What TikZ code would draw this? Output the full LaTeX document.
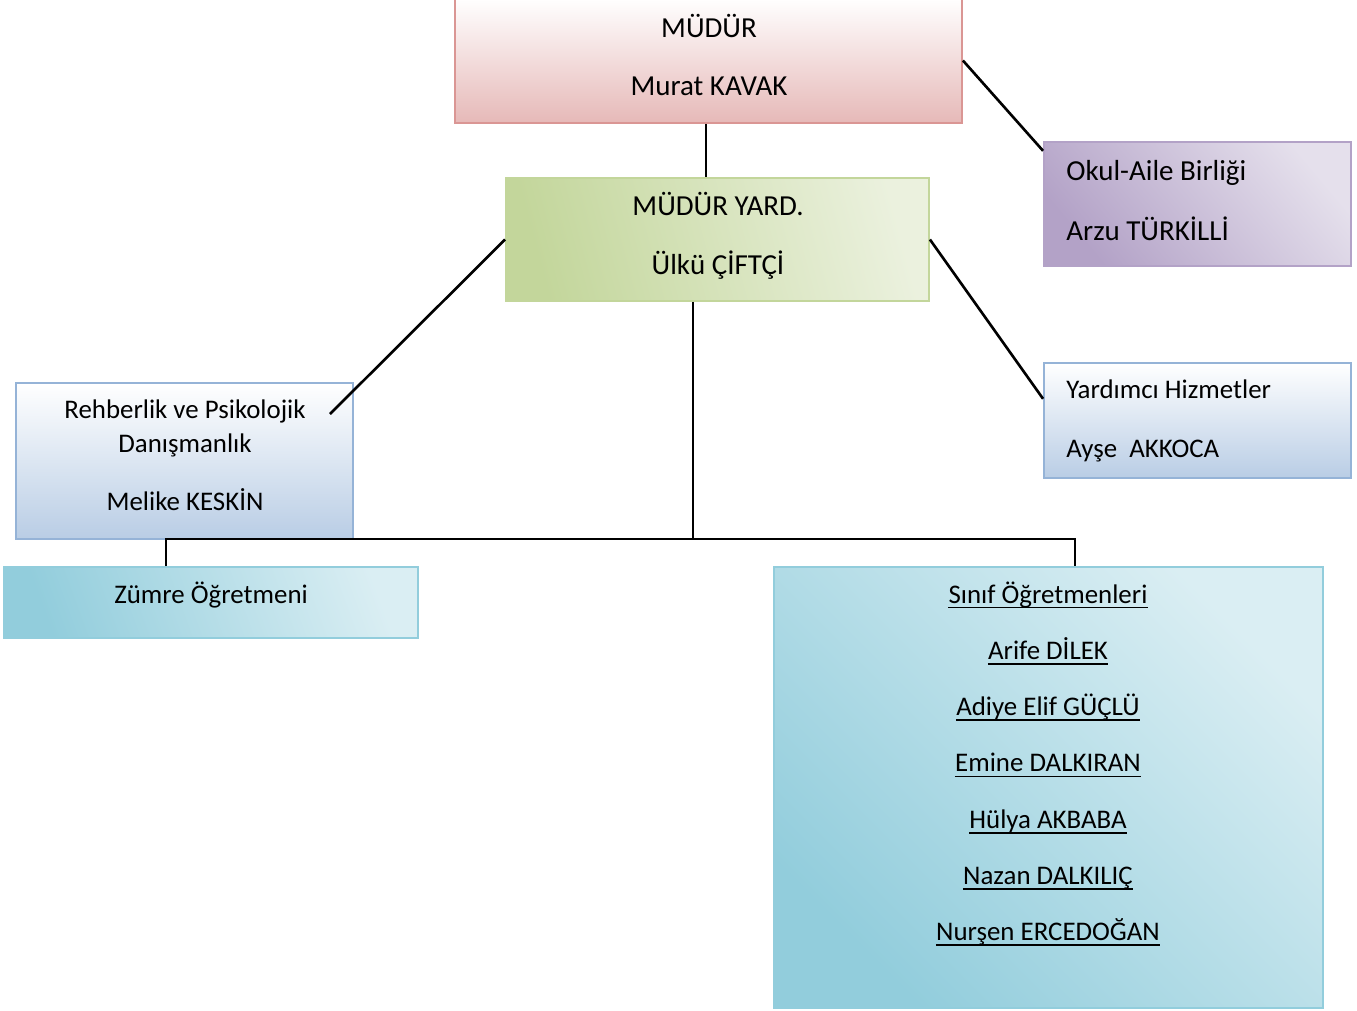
\documentclass[tikz,border=0pt]{standalone}
\usepackage{fontspec}
\setmainfont{Carlito}
\usetikzlibrary{positioning}

\definecolor{pinkbot}{HTML}{E6B9B8}
\definecolor{pinkline}{HTML}{DA9694}
\definecolor{greendark}{HTML}{C3D69B}
\definecolor{greenlight}{HTML}{EBF1DE}
\definecolor{purpdark}{HTML}{B3A2C7}
\definecolor{purplight}{HTML}{E5E0EC}
\definecolor{bluebot}{HTML}{B9CDE5}
\definecolor{blueline}{HTML}{95B3D7}
\definecolor{tealdark}{HTML}{92CDDC}
\definecolor{teallight}{HTML}{DAEEF3}

\tikzset{
  box/.style={rectangle, inner sep=0pt, line width=1.1pt},
  conn/.style={line width=1.5pt, color=black},
  big/.style={font=\fontsize{16.5}{19}\selectfont, inner sep=0pt, anchor=base},
  small/.style={font=\fontsize{15.3}{18}\selectfont, inner sep=0pt, anchor=base}
}

\begin{document}
\begin{tikzpicture}[x=0.02cm,y=-0.02cm]
\useasboundingbox (0,0) rectangle (1357,1011);

\node[box, draw=pinkline, top color=white, bottom color=pinkbot,
  minimum width=10.14cm, minimum height=2.5cm] (mudur) at (708.5,60.5) {};
\node[box, draw=greendark, top color=greenlight, bottom color=greendark, shading angle=-75,
  minimum width=8.46cm, minimum height=2.46cm] (yard) at (717.5,239.5) {};
\node[box, draw=purpdark, top color=purplight, bottom color=purpdark, shading angle=-50,
  minimum width=6.14cm, minimum height=2.48cm] (okul) at (1197.5,204) {};
\node[box, draw=blueline, top color=white, bottom color=bluebot,
  minimum width=6.74cm, minimum height=3.12cm] (rehber) at (184.5,461) {};
\node[box, draw=blueline, top color=white, bottom color=bluebot,
  minimum width=6.14cm, minimum height=2.3cm] (yardimci) at (1197.5,420.5) {};
\node[box, draw=tealdark, top color=teallight, bottom color=tealdark, shading angle=-70,
  minimum width=8.28cm, minimum height=1.42cm] (zumre) at (211,602.5) {};
\node[box, draw=tealdark, top color=teallight, bottom color=tealdark, shading angle=-45,
  minimum width=10.98cm, minimum height=8.82cm] (sinif) at (1048.5,787.5) {};

\node[big] (mudurt) at (709,37) {MÜDÜR};
\node[big] (muduri) at (709,95) {Murat KAVAK};
\node[big] (yardt) at (718,215) {MÜDÜR YARD.};
\node[big] (yardi) at (718,274) {Ülkü ÇİFTÇİ};
\node[big, anchor=base west] (okult) at (1066,180) {Okul-Aile Birliği};
\node[big, anchor=base west] (okuli) at (1066,240) {Arzu TÜRKİLLİ};
\node[small] (rehbert) at (185,418) {Rehberlik ve Psikolojik};
\node[small] (rehbers) at (185,452) {Danışmanlık};
\node[small] (rehberi) at (185,510) {Melike KESKİN};
\node[small, anchor=base west] (yardimcit) at (1066,398) {Yardımcı Hizmetler};
\node[small, anchor=base west] (yardimcii) at (1066,457) {Ayşe\ \ AKKOCA};
\node[small] (zumret) at (211,603) {Zümre Öğretmeni};

\foreach \name [count=\i from 0] in {Sınıf Öğretmenleri, Arife DİLEK, Adiye Elif GÜÇLÜ,
  Emine DALKIRAN, Hülya AKBABA, Nazan DALKILIÇ, Nurşen ERCEDOĞAN}
{
  \node[small] (sinif\i) at (1048,603+56.3*\i) {\name};
  \draw[line width=1pt] ([yshift=-2.6pt]sinif\i.base west) -- ([yshift=-2.6pt]sinif\i.base east);
}

\coordinate (rehberend) at (330,414);
\coordinate (busl) at (166,539);
\coordinate (busm) at (693,539);
\coordinate (busr) at (1075,539);

\draw[conn] (mudur.south -| 706,0) -- (yard.north -| 706,0);
\draw[conn] (mudur.east) -- (okul.161);
\draw[conn] (yard.west) -- (rehberend);
\draw[conn] (yard.east) -- (yardimci.172);
\draw[conn] (busm |- yard.south) -- (busm);
\draw[conn] (busl |- zumre.north) -- (busl) -- (busr) -- (busr |- sinif.north);
\end{tikzpicture}
\end{document}
